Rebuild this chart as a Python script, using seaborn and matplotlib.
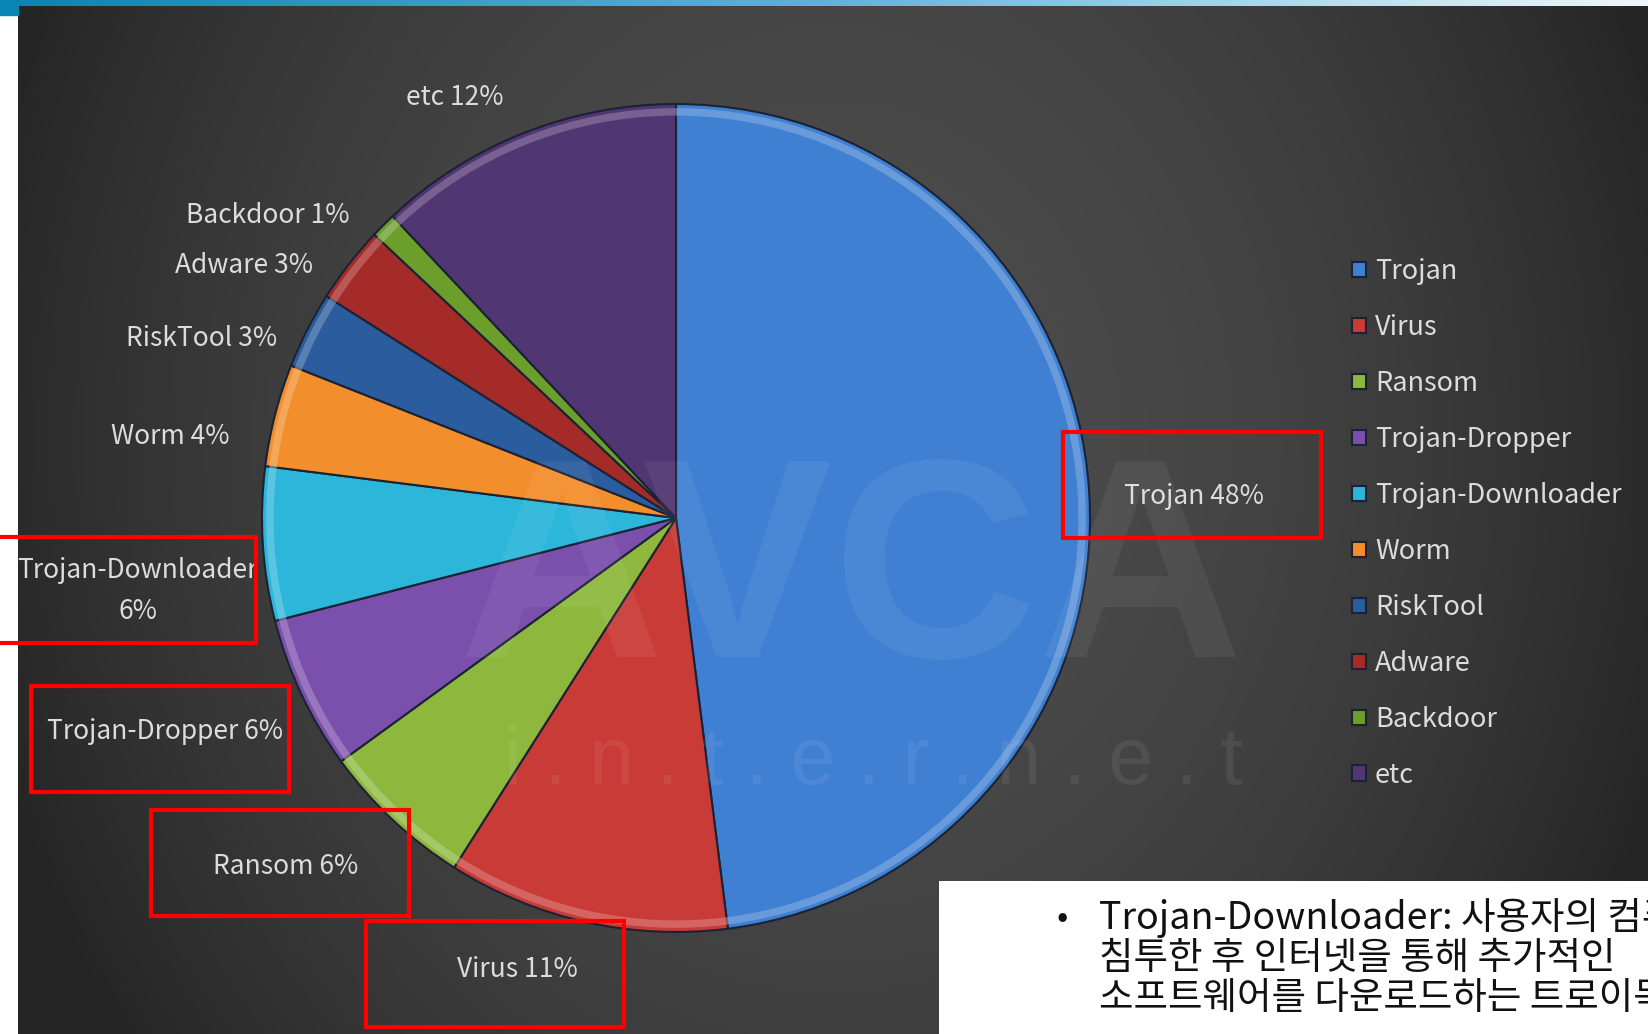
import numpy as np
import matplotlib
matplotlib.use("Agg")
import matplotlib.pyplot as plt
from matplotlib.patches import Rectangle
from matplotlib.colors import LinearSegmentedColormap, to_rgb
from matplotlib.transforms import IdentityTransform
import seaborn as sns

# ----------------------------
# Data
categories = ["Trojan", "Virus", "Ransom", "Trojan-Dropper", "Trojan-Downloader",
              "Worm", "RiskTool", "Adware", "Backdoor", "etc"]
shares = [48, 11, 6, 6, 6, 4, 3, 3, 1, 12]
slice_colors = ["#3f80d2", "#c93b37", "#8db83d", "#7b4fac", "#2cb6da",
                "#f28e2b", "#2b5d9e", "#a52b29", "#6c9e2b", "#503672"]
highlighted = ["Trojan", "Virus", "Ransom", "Trojan-Dropper", "Trojan-Downloader"]
note_lines = ["Trojan-Downloader: 사용자의 컴퓨터에",
              "침투한 후 인터넷을 통해 추가적인",
              "소프트웨어를 다운로드하는 트로이목마"]

# label nudges in pixels (right, down), the chart places labels by hand
label_nudge = [(2, 7), (-1, 15), (-12, 23), (12, 23), (28, 45),
               (-13, 30), (0, 23), (-10, 22), (-10, 14), (-8, -5)]
# red box centre relative to label centre (pixels, right, down)
box_nudge = {"Trojan": (-2, -12), "Virus": (-22, 5), "Ransom": (-5, -4),
             "Trojan-Dropper": (-5, 8), "Trojan-Downloader": (-11, -1)}

W, H = 1649, 1034
sns.set_theme(style="white")
plt.rcParams['font.family'] = ['Noto Sans CJK KR', 'DejaVu Sans']

fig = plt.figure(figsize=(W / 100, H / 100), dpi=100)
fig.patch.set_facecolor("white")

# ----------------------------
# Background canvas in pixel coordinates
bg = fig.add_axes([0, 0, 1, 1], zorder=-1)
bg.set_xlim(0, W)
bg.set_ylim(H, 0)
bg.axis("off")

yy, xx = np.mgrid[0:1:300j, 0:1:500j]
t = 0.85 * ((xx - 0.5) / 0.5) ** 2 + 0.35 * ((yy - 0.42) / 0.6) ** 2
dark_cmap = LinearSegmentedColormap.from_list("bg", ["#252525", "#4c4c4c"])
bg.imshow(1 - np.clip(t, 0, 1), cmap=dark_cmap, vmin=0, vmax=1,
          extent=(18, W, H, 6), aspect="auto", interpolation="bilinear")

# top bar
bar_cmap = LinearSegmentedColormap.from_list("bar", ["#0a84b4", "#5fb3d6", "#eef7fb"])
bg.imshow(np.linspace(0, 1, 400)[None, :], cmap=bar_cmap,
          extent=(0, W, 6, 0), aspect="auto")
bg.add_patch(Rectangle((0, 0), 18, 15, color="#0a84b4"))

# white note box
bg.add_patch(Rectangle((939, 881), W - 939, H - 881, facecolor="white", edgecolor="none", zorder=3))
bg.text(1062, 917, "•", fontsize=24, color="#111111", va="center", ha="center", zorder=4)
for i, line in enumerate(note_lines):
    bg.text(1099, 918 + 40 * i, line, fontsize=27, color="#111111", va="center", ha="left", zorder=4)

# ----------------------------
# Pie
ax = fig.add_axes([262 / W, 102 / H, 828 / W, 828 / H])
pie_labels = [f"{c}\n{s}%" if c == "Trojan-Downloader" else f"{c} {s}%"
              for c, s in zip(categories, shares)]
wedges, texts = ax.pie(shares, labels=pie_labels, colors=slice_colors,
                       startangle=90, counterclock=False, labeldistance=1.08,
                       wedgeprops=dict(edgecolor="#1b2233", linewidth=1.5),
                       textprops=dict(color="#dcdcdc", fontsize=19))

# light rim to imitate the bevel of the original
rim_colors = [tuple(0.6 * np.array(to_rgb(c)) + 0.4) for c in slice_colors]
ax.pie(shares, radius=0.99, colors=rim_colors, startangle=90, counterclock=False,
       wedgeprops=dict(width=0.018, edgecolor="none", alpha=0.55))

ax.set_xlim(-1, 1)
ax.set_ylim(-1, 1)
ax.set_aspect("equal")

px = 2 / 828  # data units per pixel
for txt, (dx, dy) in zip(texts, label_nudge):
    x, y = txt.get_position()
    txt.set_position((x + dx * px, y - dy * px))
    txt.set_multialignment("center")
    txt.set_linespacing(1.7)

# legend
fig.legend(wedges, categories, loc="upper left", bbox_to_anchor=(1352 / W, 1 - 258 / H),
           frameon=False, fontsize=19.5, labelcolor="#dcdcdc",
           handlelength=0.5, handleheight=0.5, handletextpad=0.35,
           labelspacing=1.07, borderpad=0, borderaxespad=0)

# watermark
fig.text(852 / W, 1 - 583 / H, "AVCA", fontsize=205, fontweight="bold",
         family="Liberation Sans", color="white", alpha=0.06, ha="center", va="center")
fig.text(873 / W, 1 - 763 / H, "i . n . t . e . r . n . e . t", fontsize=58,
         family="Liberation Sans", color="white", alpha=0.07, ha="center", va="center")

# red highlight boxes around selected labels
fig.canvas.draw()
renderer = fig.canvas.get_renderer()
for txt, c in zip(texts, categories):
    if c in highlighted:
        bb = txt.get_window_extent(renderer)
        bx, by = box_nudge[c]
        cx, cy = (bb.x0 + bb.x1) / 2 + bx, (bb.y0 + bb.y1) / 2 - by
        fig.add_artist(Rectangle((cx - 129, cy - 53), 258, 106, transform=IdentityTransform(),
                                 fill=False, edgecolor="#ff0000", linewidth=3, zorder=5))

fig.savefig("out.png", dpi=100)
